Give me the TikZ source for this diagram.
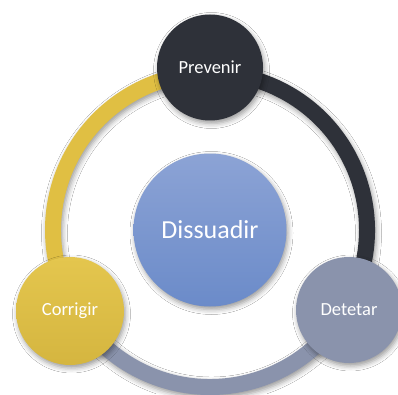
\documentclass[tikz,border=0pt]{standalone}
\usepackage{fontspec}
\setmainfont{Carlito}
\usetikzlibrary{calc,shadows.blur}
\definecolor{cDark}{HTML}{2E3139}
\definecolor{cYellow}{HTML}{E0BF43}
\definecolor{cYellowTop}{HTML}{E4C64E}
\definecolor{cGray}{HTML}{8A93AC}
\definecolor{cBlueTop}{HTML}{8CA3D5}
\definecolor{cBlueBot}{HTML}{6B8BC9}
\tikzset{
  sh/.style={blur shadow={shadow xshift=1.5pt, shadow yshift=-3pt, shadow blur radius=5pt, shadow opacity=40}},
  bubble/.style={circle, inner sep=0pt, text=white, font=\fontsize{18.5}{20}\selectfont, sh},
  ringpart/.style={sh}
}
\begin{document}
\begin{tikzpicture}[x=1pt,y=1pt]
\useasboundingbox (0,0) rectangle (398,394);
\fill[white] (0,0) rectangle (398,394);
\coordinate (c) at (210,164);
% ring segments (annular sectors)
\fill[cYellow, ringpart] ($(c)+(90:165)$) arc[start angle=90, end angle=210, radius=165]
  -- ($(c)+(210:149)$) arc[start angle=210, end angle=90, radius=149] -- cycle;
\fill[cDark, ringpart] ($(c)+(-30:165)$) arc[start angle=-30, end angle=90, radius=165]
  -- ($(c)+(90:149)$) arc[start angle=90, end angle=-30, radius=149] -- cycle;
\fill[cGray, ringpart] ($(c)+(210:165)$) arc[start angle=210, end angle=330, radius=165]
  -- ($(c)+(330:149)$) arc[start angle=330, end angle=210, radius=149] -- cycle;
% circles
\node[bubble, minimum size=106pt, fill=cDark] (prev) at (210,326.5) {Prevenir};
\node[bubble, minimum size=108pt, top color=cYellowTop, bottom color=cYellow!95!black] (corr) at (70,83) {Corrigir};
\node[bubble, minimum size=106pt, fill=cGray] (dete) at (349,84) {Detetar};
\node[bubble, minimum size=153pt, top color=cBlueTop, bottom color=cBlueBot, font=\fontsize{26}{28}\selectfont] (diss) at (c) {Dissuadir};
\end{tikzpicture}
\end{document}
